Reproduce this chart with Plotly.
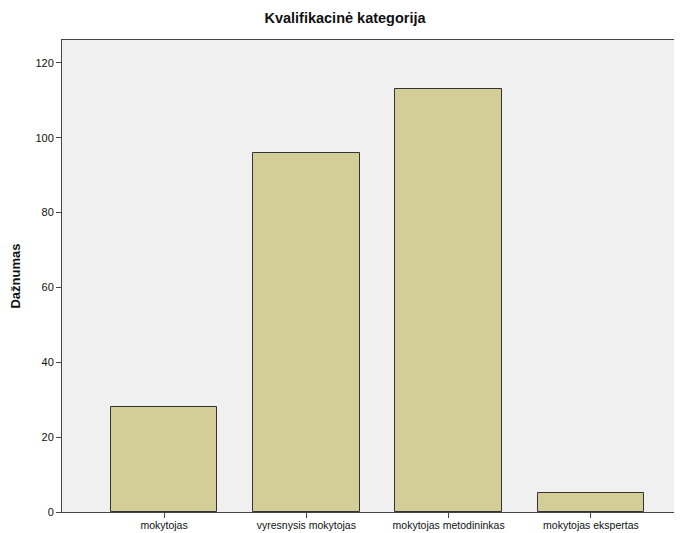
import plotly.graph_objects as go

categories = ["mokytojas", "vyresnysis mokytojas", "mokytojas metodininkas", "mokytojas ekspertas"]
counts = [28, 96, 113, 5]
y_tick_vals = [0, 20, 40, 60, 80, 100, 120]

# page body has an 8px margin; compensate so the plot sits where the reference has it
OFF = 8
W, H = 682 - OFF, 533 - OFF

fig = go.Figure(go.Bar(
    x=list(range(len(categories))),
    y=counts,
    width=0.75,
    marker=dict(color="#D3CE97", line=dict(color="#333333", width=1)),
))

fig.update_layout(
    width=W, height=H,
    margin=dict(l=62 - OFF, r=0, t=40 - OFF, b=21, autoexpand=False),
    paper_bgcolor="white",
    plot_bgcolor="#F0F0F0",
    font=dict(family="Liberation Sans, Arial, sans-serif", color="#111111", size=11),
    title=dict(text="<b>Kvalifikacinė kategorija</b>", x=0.5, xanchor="center",
               y=1 - (18 - OFF) / H, yanchor="middle", font=dict(size=14.5, color="#111111")),
    showlegend=False,
    bargap=0,
)
fig.update_xaxes(
    tickmode="array", tickvals=list(range(len(categories))), ticktext=categories,
    range=[-0.717, 3.64], showgrid=False, zeroline=False,
    showline=True, linecolor="#444444", linewidth=1, mirror=True,
    ticks="outside", ticklen=5, tickcolor="#444444",
    tickfont=dict(size=10.5), automargin=False, ticklabelstandoff=-2,
)
fig.update_yaxes(
    tickmode="array", tickvals=y_tick_vals,
    range=[0, 126.1], showgrid=False, zeroline=False,
    showline=True, linecolor="#444444", linewidth=1,
    ticks="outside", ticklen=5, tickcolor="#444444",
    tickfont=dict(size=11), automargin=False,
    title=dict(text="<b>Dažnumas</b>", font=dict(size=13, color="#111111"), standoff=12),
)

fig.write_html("out.html")
